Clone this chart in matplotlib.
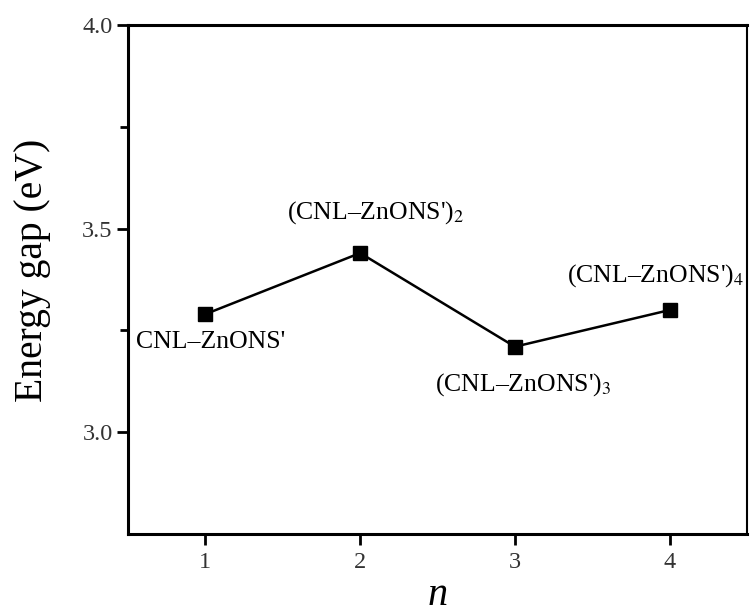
import matplotlib
matplotlib.use("Agg")
import matplotlib.pyplot as plt
from matplotlib.ticker import FixedLocator

plt.rcParams['font.family'] = ['Liberation Serif', 'DejaVu Serif']
plt.rcParams['mathtext.fontset'] = 'stix'

# data
n_values = [1, 2, 3, 4]
energy_gap = [3.29, 3.44, 3.21, 3.30]
point_labels = ["CNL\u2013ZnONS'",
                "(CNL\u2013ZnONS')$_2$",
                "(CNL\u2013ZnONS')$_3$",
                "(CNL\u2013ZnONS')$_4$"]
x_ticks = [1, 2, 3, 4]
y_ticks = [3.0, 3.5, 4.0]
y_minor = [3.25, 3.75]

# label offsets (points) relative to each marker
offsets = [(4, -20), (11, 29), (6, -27), (-10, 25)]

fig = plt.figure(figsize=(7.5, 6.16), dpi=100)
ax = fig.add_axes([0.1707, 0.1331, 0.8253, 0.8263])

ax.plot(n_values, energy_gap, color='k', lw=1.8, marker='s', ms=9.5)

for xv, yv, lab, off in zip(n_values, energy_gap, point_labels, offsets):
    ax.annotate(lab, (xv, yv), xytext=off, textcoords='offset points',
                ha='center', va='center', fontsize=18.5)

ax.set_xlim(0.5, 4.5)
ax.set_ylim(2.75, 4.0)
ax.set_xticks(x_ticks)
ax.set_yticks(y_ticks)
ax.yaxis.set_minor_locator(FixedLocator(y_minor))
ax.set_yticklabels(["%.1f" % v for v in y_ticks])

ax.tick_params(axis='both', which='major', direction='out', length=8, width=2,
               labelsize=17.5, labelcolor='#333333')
ax.tick_params(axis='y', which='minor', direction='out', length=6, width=2)
ax.tick_params(axis='y', which='major', pad=3)
ax.tick_params(axis='x', which='major', pad=5)

for side in ['left', 'bottom', 'top']:
    ax.spines[side].set_linewidth(2.2)
ax.spines['right'].set_linewidth(1.5)

ax.set_ylabel("Energy gap (eV)", fontsize=28.5, va='center')
ax.yaxis.set_label_coords(-0.155, 0.517)
ax.set_xlabel("n", fontsize=29, style='italic', labelpad=3)

fig.savefig("out.png", dpi=100)
plt.close()
